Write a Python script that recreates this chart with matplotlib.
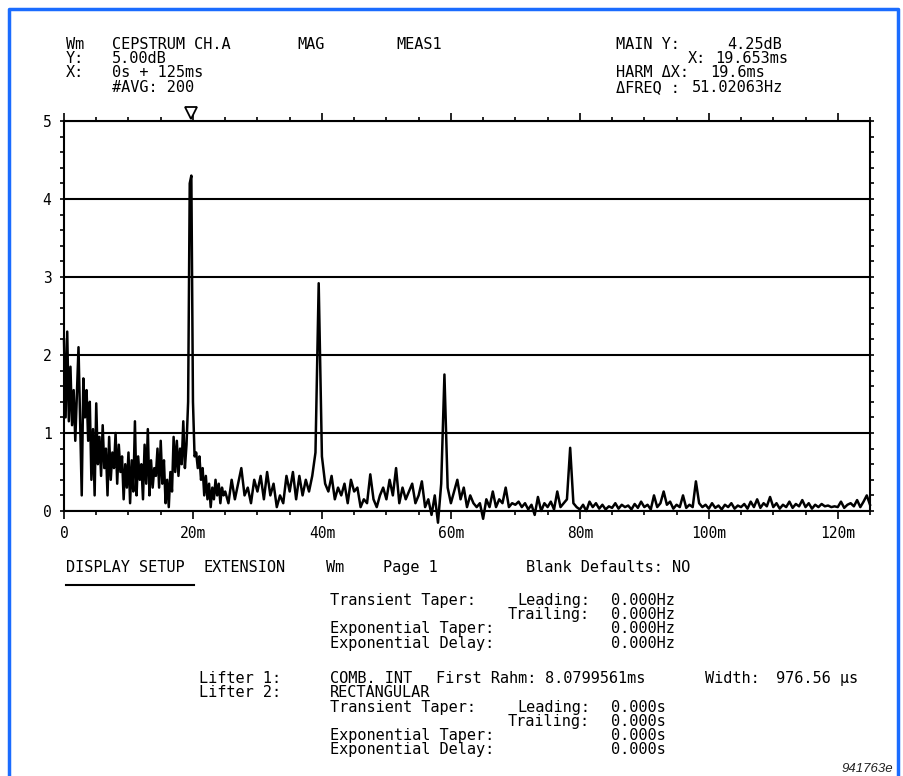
import numpy as np
import matplotlib.pyplot as plt
from matplotlib.lines import Line2D
from matplotlib.ticker import MultipleLocator

# cepstrum magnitude (dB)
# 0 .. 24.75 ms, every 0.25 ms
mag_early = [
    2.20, 1.20, 2.30, 1.15, 1.85, 1.10, 1.55, 0.90,
    1.50, 2.10, 1.15, 0.20, 1.70, 1.20, 1.55, 0.90,
    1.40, 0.40, 1.05, 0.20, 1.38, 0.60, 0.95, 0.45,
    1.10, 0.55, 0.80, 0.20, 0.95, 0.40, 0.75, 0.55,
    1.00, 0.35, 0.85, 0.50, 0.70, 0.15, 0.60, 0.30,
    0.75, 0.10, 0.65, 0.25, 1.15, 0.20, 0.70, 0.40,
    0.60, 0.15, 0.85, 0.35, 1.05, 0.20, 0.65, 0.30,
    0.55, 0.45, 0.80, 0.30, 0.90, 0.35, 0.65, 0.10,
    0.40, 0.05, 0.50, 0.25, 0.95, 0.50, 0.90, 0.45,
    0.80, 0.60, 1.15, 0.55, 0.85, 1.40, 4.20, 4.30,
    1.40, 0.70, 0.75, 0.55, 0.70, 0.40, 0.55, 0.20,
    0.45, 0.15, 0.35, 0.05, 0.30, 0.15, 0.40, 0.20,
    0.35, 0.10, 0.30, 0.20,
]
# 25 .. 125 ms, every 0.5 ms
mag_late = [
    0.25, 0.10, 0.40, 0.15, 0.35, 0.55, 0.20, 0.30, 0.10, 0.40,
    0.25, 0.45, 0.15, 0.50, 0.20, 0.35, 0.05, 0.20, 0.10, 0.45,
    0.25, 0.50, 0.15, 0.45, 0.20, 0.40, 0.25, 0.45, 0.75, 2.92,
    0.70, 0.35, 0.25, 0.45, 0.15, 0.30, 0.20, 0.35, 0.10, 0.40,
    0.25, 0.30, 0.05, 0.15, 0.10, 0.47, 0.15, 0.05, 0.20, 0.30,
    0.15, 0.40, 0.20, 0.55, 0.10, 0.30, 0.15, 0.25, 0.35, 0.10,
    0.20, 0.38, 0.05, 0.15, -0.05, 0.20, -0.15, 0.35, 1.75, 0.30,
    0.10, 0.25, 0.40, 0.15, 0.30, 0.05, 0.20, 0.10, 0.05, 0.10,
    -0.10, 0.15, 0.05, 0.25, 0.05, 0.15, 0.10, 0.30, 0.05, 0.10,
    0.08, 0.12, 0.05, 0.10, 0.02, 0.08, -0.05, 0.18, 0.00, 0.10,
    0.05, 0.12, 0.02, 0.25, 0.05, 0.10, 0.15, 0.81, 0.10, 0.05,
    0.02, 0.08, 0.00, 0.12, 0.05, 0.10, 0.03, 0.08, 0.02, 0.06,
    0.04, 0.10, 0.03, 0.08, 0.05, 0.07, 0.02, 0.09, 0.04, 0.12,
    0.05, 0.08, 0.02, 0.20, 0.05, 0.10, 0.25, 0.08, 0.12, 0.03,
    0.08, 0.05, 0.20, 0.04, 0.08, 0.05, 0.38, 0.10, 0.05, 0.08,
    0.03, 0.10, 0.04, 0.07, 0.02, 0.08, 0.05, 0.10, 0.03, 0.07,
    0.05, 0.09, 0.03, 0.12, 0.05, 0.15, 0.04, 0.10, 0.06, 0.18,
    0.05, 0.10, 0.03, 0.08, 0.05, 0.12, 0.04, 0.09, 0.06, 0.14,
    0.05, 0.10, 0.03, 0.08, 0.05, 0.09, 0.06, 0.07, 0.05, 0.06,
    0.05, 0.12, 0.04, 0.08, 0.10, 0.06, 0.14, 0.05, 0.12, 0.20,
    0.08,
]
marker_ms = 19.653

xtick_vals = [0, 20, 40, 60, 80, 100, 120]
xtick_labels = ['0', '20m', '40m', '60m', '80m', '100m', '120m']
ytick_vals = [0, 1, 2, 3, 4, 5]
ytick_labels = ['0', '1', '2', '3', '4', '5']

t = np.concatenate([np.arange(len(mag_early)) * 0.25,
                    25 + np.arange(len(mag_late)) * 0.5])
mag = np.array(mag_early + mag_late)

W, H = 904, 776
MONO = 'DejaVu Sans Mono'
FS = 11

fig = plt.figure(figsize=(W / 100, H / 100), dpi=100)
ax = fig.add_axes([64 / W, 1 - 511 / H, (870 - 64) / W, (511 - 121) / H])

ax.plot(t, mag, color='k', lw=1.8, clip_on=False)
ax.set_xlim(0, 125)
ax.set_ylim(0, 5)

ax.set_xticks(xtick_vals)
ax.set_xticklabels(xtick_labels, family=MONO, fontsize=10.5)
ax.set_yticks(ytick_vals)
ax.set_yticklabels(ytick_labels, family=MONO, fontsize=10.5)
ax.xaxis.set_minor_locator(MultipleLocator(5))
ax.yaxis.set_minor_locator(MultipleLocator(0.2))
ax.tick_params(which='both', direction='out', top=True, right=True, width=1.2, color='k')
ax.tick_params(axis='x', which='major', length=6, pad=5)
ax.tick_params(axis='x', which='minor', length=3)
ax.tick_params(axis='y', which='both', length=3, pad=6)
ax.grid(axis='y', color='k', lw=1.5)
for sp in ax.spines.values():
    sp.set_linewidth(1.5)

# cursor marker
ax.plot([marker_ms], [5.1], marker='v', ms=9, mfc='white', mec='k', mew=1.3, clip_on=False)


def ftext(x, y, s, **kw):
    # y is the middle of the capitals; text sits on a common baseline
    kw.setdefault('family', MONO)
    kw.setdefault('fontsize', FS)
    fig.text(x / W, 1 - (y + 5) / H, s, va='baseline', **kw)


# header
ftext(66, 44, 'Wm')
ftext(112, 44, 'CEPSTRUM CH.A')
ftext(297, 44, 'MAG')
ftext(396, 44, 'MEAS1')
ftext(66, 58, 'Y:')
ftext(112, 58, '5.00dB')
ftext(66, 72, 'X:')
ftext(112, 72, '0s + 125ms')
ftext(112, 87, '#AVG: 200')

ftext(616, 44, 'MAIN Y:')
ftext(727, 44, '4.25dB')
ftext(688, 58, 'X:')
ftext(715, 58, '19.653ms')
ftext(616, 72, 'HARM ΔX:')
ftext(710, 72, '19.6ms')
ftext(616, 87, 'ΔFREQ :')
ftext(692, 87, '51.02063Hz')

# setup page
ftext(66, 567, 'DISPLAY SETUP')
ftext(204, 567, 'EXTENSION')
fig.add_artist(Line2D([66 / W, 194 / W], [1 - 585 / H, 1 - 585 / H], color='k', lw=1.5))
ftext(326, 567, 'Wm')
ftext(383, 567, 'Page 1')
ftext(526, 567, 'Blank Defaults: NO')

ftext(330, 600, 'Transient Taper:')
ftext(590, 600, 'Leading:', ha='right')
ftext(611, 600, '0.000Hz')
ftext(590, 614, 'Trailing:', ha='right')
ftext(611, 614, '0.000Hz')
ftext(330, 628, 'Exponential Taper:')
ftext(611, 628, '0.000Hz')
ftext(330, 643, 'Exponential Delay:')
ftext(611, 643, '0.000Hz')

ftext(199, 678, 'Lifter 1:')
ftext(330, 678, 'COMB. INT')
ftext(436, 678, 'First Rahm:')
ftext(545, 678, '8.0799561ms')
ftext(705, 678, 'Width:')
ftext(776, 678, '976.56 µs')
ftext(199, 692, 'Lifter 2:')
ftext(330, 692, 'RECTANGULAR')
ftext(330, 707, 'Transient Taper:')
ftext(590, 707, 'Leading:', ha='right')
ftext(611, 707, '0.000s')
ftext(590, 721, 'Trailing:', ha='right')
ftext(611, 721, '0.000s')
ftext(330, 735, 'Exponential Taper:')
ftext(611, 735, '0.000s')
ftext(330, 749, 'Exponential Delay:')
ftext(611, 749, '0.000s')

fig.text(893 / W, 1 - 772 / H, '941763e', ha='right', va='baseline',
         family='Liberation Sans', style='italic', fontsize=9.5, color='#222222')

# blue page frame
fig.add_artist(Line2D([9 / W, 9 / W, 898 / W, 898 / W],
                      [0, 1 - 9 / H, 1 - 9 / H, 0], color='#1a6cff', lw=2.5))

fig.savefig('out.png', dpi=100)
